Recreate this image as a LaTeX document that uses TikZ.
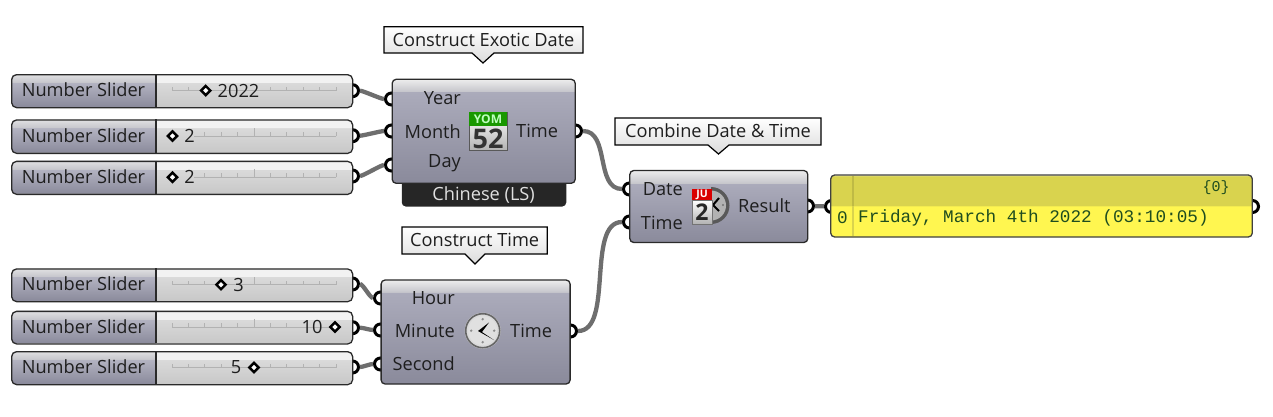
\documentclass[tikz,border=0pt]{standalone}
\usepackage{fontspec}
\setmainfont{Open Sans}
\newfontfamily\panelfont{Liberation Mono}
\definecolor{wirec}{HTML}{6E6E6E}
\definecolor{edgec}{HTML}{2A2A2A}
\definecolor{txtc}{HTML}{1E1E1E}
\definecolor{pgreen}{HTML}{1F4D1F}
\definecolor{cA}{HTML}{8A8A9B}
\definecolor{cB}{HTML}{ABABBB}
\definecolor{cC}{HTML}{C6C6CC}
\definecolor{cD}{HTML}{EDEDED}
\pgfdeclareverticalshading{compTall}{100bp}{color(0bp)=(cA); color(25bp)=(cA); color(69bp)=(cB); color(69.2bp)=(cC); color(75bp)=(cD); color(100bp)=(cD)}
\pgfdeclareverticalshading{compLow}{100bp}{color(0bp)=(cA); color(25bp)=(cA); color(66bp)=(cB); color(66.2bp)=(cC); color(75bp)=(cD); color(100bp)=(cD)}
\pgfdeclareverticalshading{slideLeft}{100bp}{color(0bp)=(cA); color(25bp)=(cA); color(62bp)=(cB!90!white); color(62.2bp)=(cC); color(75bp)=(cD!70!cC); color(100bp)=(cD)}
\definecolor{rA}{HTML}{C8C8C8}
\definecolor{rB}{HTML}{DADADA}
\definecolor{rC}{HTML}{F2F2F2}
\pgfdeclareverticalshading{slideRight}{100bp}{color(0bp)=(rA); color(25bp)=(rA); color(62bp)=(rB); color(62.2bp)=(rC); color(75bp)=(rC); color(100bp)=(rC)}
\definecolor{yA}{HTML}{FFF650}
\definecolor{yB}{HTML}{D9D34E}
\pgfdeclareverticalshading{panelShade}{100bp}{color(0bp)=(yA); color(50bp)=(yA); color(50.1bp)=(yB); color(74bp)=(yB); color(75bp)=(white!60!yB); color(100bp)=(white)}
\pgfdeclareverticalshading{tipShade}{100bp}{color(0bp)=(black!14!white); color(25bp)=(black!14!white); color(75bp)=(white); color(100bp)=(white)}
\pgfdeclareverticalshading{yomShade}{100bp}{color(0bp)=(black!30!white); color(25bp)=(black!30!white); color(75bp)=(white); color(100bp)=(white)}
\tikzset{
  x=1pt,y=-1pt,
  gripnode/.style={circle,draw=black,line width=3pt,fill=white,minimum size=12pt,inner sep=0pt},
  wire/.style={draw=wirec,line width=4.3pt},
  compbox/.style={draw=edgec,line width=1.3pt,rounded corners=4pt,inner sep=0pt},
  slidebox/.style={draw=edgec,line width=1.3pt,rounded corners=5pt,inner sep=0pt,minimum width=341pt,anchor=north west},
  lab/.style={font=\fontsize{18.2}{20}\selectfont,text=txtc,inner sep=0pt},
  tiptext/.style={font=\fontsize{18.2}{20}\selectfont,text=txtc,inner sep=0pt},
  tipbody/.style={draw=black,line width=1.2pt,shading=tipShade},
  diamondmark/.style={draw=black,line width=2.4pt,fill=white,line join=miter},
  tickline/.style={draw=black!30,line width=.8pt},
  monotext/.style={font=\fontsize{17.7}{20}\panelfont,text=pgreen,inner sep=0pt},
}
% #1 name, #2 top, #3 bottom, #4 diamond x, #5 value, #6 value centre x, #7 line start, #8 line end, #9 tick list
\newcommand{\gslider}[9]{%
  \path[shading=slideRight,rounded corners=5pt] (11,#2) rectangle (352,#3);
  \begin{scope}
    \clip (11,#2) rectangle (156,#3);
    \path[shading=slideLeft,rounded corners=5pt] (11,#2) rectangle (352,#3);
  \end{scope}
  \pgfmathsetmacro{\lineY}{(#2+#3)/2}
  \draw[tickline] (172,\lineY) -- (172,\lineY-4) (336,\lineY) -- (336,\lineY-4);
  \draw[tickline] (#7,\lineY) -- (#8,\lineY);
  \foreach \k in {#9}{
    \pgfmathsetmacro{\tx}{172+16.4*\k}
    \pgfmathsetmacro{\th}{\k==5?8:4}
    \draw[tickline] (\tx,\lineY) -- (\tx,\lineY-\th);
  }
  \node[slidebox,minimum height=#3pt-#2pt] (#1) at (11,#2) {};
  \draw[edgec,line width=1.3pt] (156,#2) -- (156,#3);
  \node[lab] (#1name) at (83.5,\lineY-0.5) {Number Slider};
  \node[lab] (#1val) at (#6,\lineY) {#5};
  \draw[diamondmark] (#4-4.6,\lineY) -- (#4,\lineY-4.6) -- (#4+4.6,\lineY) -- (#4,\lineY+4.6) -- cycle;
}
\begin{document}
\begin{tikzpicture}
\useasboundingbox (0,0) rectangle (1273,416);
% grips (under the component bodies)
\node[gripnode] (so1) at (352.5,90.7) {};
\node[gripnode] (so2) at (352.5,135.7) {};
\node[gripnode] (so3) at (352.5,176) {};
\node[gripnode] (so4) at (352.5,284) {};
\node[gripnode] (so5) at (352.5,327.7) {};
\node[gripnode] (so6) at (352.5,367) {};
\node[gripnode] (aY) at (391.5,99) {};
\node[gripnode] (aM) at (391.5,131) {};
\node[gripnode] (aD) at (391.5,165) {};
\node[gripnode] (aT) at (575.5,131) {};
\node[gripnode] (bH) at (380.5,298) {};
\node[gripnode] (bM) at (380.5,330) {};
\node[gripnode] (bS) at (380.5,364) {};
\node[gripnode] (bT) at (570.5,331) {};
\node[gripnode] (cD) at (629.5,189) {};
\node[gripnode] (cT) at (629.5,222) {};
\node[gripnode] (cR) at (807.5,206) {};
\node[gripnode] (pI) at (831.5,206.5) {};
\node[gripnode] (pO) at (1252.5,206.5) {};
% wires
\draw[wire] (so1) to[out=0,in=180,distance=3pt] (aY);
\draw[wire] (so2) to[out=0,in=180,distance=3pt] (aM);
\draw[wire] (so3) to[out=0,in=180,distance=3pt] (aD);
\draw[wire] (so4) to[out=0,in=180,distance=3pt] (bH);
\draw[wire] (so5) to[out=0,in=180,distance=3pt] (bM);
\draw[wire] (so6) to[out=0,in=180,distance=3pt] (bS);
\draw[wire] (aT) to[out=0,in=180,distance=27pt] (cD);
\draw[wire] (bT) to[out=0,in=180,distance=36pt] (cT);
\draw[wire] (cR) -- (pI);
% sliders
\gslider{s1}{74}{107}{205.7}{2022}{238.5}{172}{336}{1,6,7,8,9}
\gslider{s2}{119.3}{152.7}{172.5}{2}{189.5}{194}{336}{2,3,4,5,6,7,8,9}
\gslider{s3}{160.7}{193.7}{172.5}{2}{189.5}{194}{336}{2,3,4,5,6,7,8,9}
\gslider{s4}{268.3}{301}{221}{3}{238.5}{172}{336}{1,2,5,6,7,8,9}
\gslider{s5}{310.7}{343.3}{335}{10}{312}{172}{336}{1,2,3,4,5,6,7}
\gslider{s6}{351}{384}{254}{5}{236}{172}{336}{1,2,3,6,7,8,9}
% Chinese label behind the component
\node[fill=black!85,rounded corners=4pt,minimum width=164.5pt,minimum height=46pt,inner sep=0pt] (chinbox) at (484,183.5) {};
% components
\node[compbox,shading=compTall,minimum width=183pt,minimum height=104pt] (compA) at (483.7,131.3) {};
\node[compbox,shading=compTall,minimum width=189pt,minimum height=104pt] (compB) at (475.6,332) {};
\node[compbox,shading=compLow,minimum width=178pt,minimum height=72pt] (compC) at (718.8,206.5) {};
\node[font=\fontsize{18.2}{20}\selectfont,text=white!88!black,inner sep=0pt] (chin) at (483.6,195.5) {Chinese (LS)};
% component labels
\node[lab,anchor=east] (lY) at (461,98.5) {Year};
\node[lab,anchor=east] (lM) at (461,131.5) {Month};
\node[lab,anchor=east] (lD) at (461,163.5) {Day};
\node[lab,anchor=west] (lT) at (516,131) {Time};
\node[lab,anchor=east] (lH) at (455,298.5) {Hour};
\node[lab,anchor=east] (lMi) at (455,330.5) {Minute};
\node[lab,anchor=east] (lS) at (455,363.5) {Second};
\node[lab,anchor=west] (lT2) at (510,331) {Time};
\node[lab,anchor=east] (lDa) at (683,189.5) {Date};
\node[lab,anchor=east] (lTi) at (683,222.5) {Time};
\node[lab,anchor=west] (lR) at (738,205.5) {Result};
% YOM icon
\path[shading=yomShade,draw=black!65,line width=.8pt] (469,112) rectangle (507,150);
\fill[green!55!black!90!yellow] (469,112) rectangle (507,126);
\node[font=\fontsize{12}{12}\selectfont\bfseries,text=green!25!white,inner sep=0pt] (yom) at (488,119) {YOM};
\node[font=\fontsize{27}{27}\selectfont\bfseries,text=black!80,inner sep=0pt] (yomn) at (488,138.5) {52};
% Date-time icon
\begin{scope}
  \clip (711,185) rectangle (732,226);
  \fill[black!65] (711,205.5) circle (18.5);
  \fill[black!30] (711,205.5) circle (15);
\end{scope}
\draw[black,line width=2pt] (719,198) -- (713,205) -- (719,211);
\fill[black!55] (723,205) circle (1.2);
\path[shading=yomShade,draw=black!55,line width=.6pt] (692,200) rectangle (712,224);
\fill[red!85!black] (692,189) rectangle (712,200);
\node[font=\fontsize{10.5}{11}\selectfont\bfseries,text=white,inner sep=0pt] (ju) at (702,194.5) {JU};
\node[font=\fontsize{23}{23}\selectfont\bfseries,text=black!85,inner sep=0pt] (dtwo) at (702,212) {2};
% Clock icon
\fill[black!15] (482.7,330.7) circle (18);
\draw[black!60,line width=1.6pt] (482.7,330.7) circle (17);
\fill[black!12] (482.7,330.7) circle (14.5);
\foreach \dx/\dy in {0/-11.5,11.5/0,0/11.5,-11.5/0}{\fill[black!45] (482.7+\dx,330.7+\dy) circle (1.3);}
\fill[black] (478,331) -- (489,322.5) -- (482,332) -- (494,340) -- cycle;
% tooltips
\draw[tipbody] (384,26.7) -- (583,26.7) -- (583,53) -- (494,53) -- (483,63) -- (472,53) -- (384,53) -- cycle;
\node[tiptext] (tip1) at (483.5,39.5) {Construct Exotic Date};
\draw[tipbody] (402,227) -- (547.3,227) -- (547.3,254) -- (485,254) -- (475,264) -- (465,254) -- (402,254) -- cycle;
\node[tiptext] (tip2) at (474.7,240) {Construct Time};
\draw[tipbody] (615,118) -- (821,118) -- (821,145) -- (729,145) -- (718.5,154) -- (708,145) -- (615,145) -- cycle;
\node[tiptext] (tip3) at (718,131) {Combine Date \& Time};
% panel
\node[draw=black!75,line width=1.3pt,rounded corners=4pt,shading=panelShade,minimum width=421.6pt,minimum height=62pt,inner sep=0pt] (panel) at (1041.5,206) {};
\fill[yB] (852,206) rectangle (854,236.3);
\fill[yB!88!black] (852,176) rectangle (854,206);
\node[monotext] (pidx) at (842.5,217.5) {0};
\node[monotext,anchor=west] (ptxt) at (858,217.5) {Friday, March 4th 2022 (03:10:05)};
\node[monotext,font=\fontsize{15}{18}\panelfont] (pidxh) at (1216,188) {\{0\}};
\end{tikzpicture}
\end{document}
